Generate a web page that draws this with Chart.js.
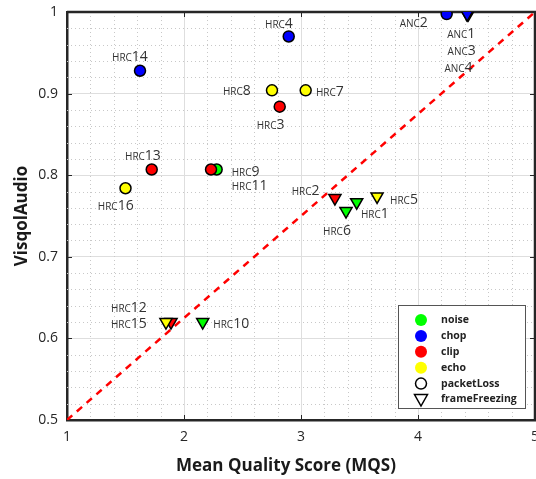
<!DOCTYPE html>
<html>
<head>
<meta charset="utf-8">
<script src="https://cdn.jsdelivr.net/npm/chart.js@4.4.1/dist/chart.umd.min.js"></script>
<style>
  html, body { margin: 0; padding: 0; overflow: hidden; background: #fff; }
  #wrap { width: 545px; height: 479px; }
</style>
</head>
<body>
<div id="wrap"><canvas id="chart" width="545" height="479"></canvas></div>
<script>
// --- data ---
const names = ['ANC1', 'ANC2', 'ANC3', 'ANC4', 'HRC1', 'HRC2', 'HRC3', 'HRC4', 'HRC5', 'HRC6',
               'HRC7', 'HRC8', 'HRC9', 'HRC10', 'HRC11', 'HRC12', 'HRC13', 'HRC14', 'HRC15', 'HRC16'];
const mqs = [4.42, 4.245, 4.43, 4.42, 3.476, 3.29, 2.818, 2.895, 3.65, 3.385,
             3.04, 2.752, 2.279, 2.16, 2.231, 1.889, 1.724, 1.624, 1.846, 1.50];
const visqol = [0.9975, 0.9975, 0.9975, 0.9975, 0.767, 0.772, 0.884, 0.970, 0.774, 0.756,
                0.904, 0.904, 0.807, 0.620, 0.807, 0.620, 0.807, 0.928, 0.620, 0.784];
const distortion = ['noise', 'chop', 'clip', 'chop', 'noise', 'clip', 'clip', 'chop', 'echo', 'noise',
                    'echo', 'echo', 'noise', 'noise', 'clip', 'clip', 'clip', 'chop', 'echo', 'echo'];
const impairment = ['frameFreezing', 'packetLoss', 'frameFreezing', 'frameFreezing', 'frameFreezing',
                    'frameFreezing', 'packetLoss', 'packetLoss', 'frameFreezing', 'frameFreezing',
                    'packetLoss', 'packetLoss', 'packetLoss', 'frameFreezing', 'packetLoss',
                    'frameFreezing', 'packetLoss', 'packetLoss', 'frameFreezing', 'packetLoss'];
const diagX = [1, 5];
const diagY = [0.5, 1];
const xTicks = [1, 2, 3, 4, 5];
const yTicks = [0.5, 0.6, 0.7, 0.8, 0.9, 1];
const legendLabels = ['noise', 'chop', 'clip', 'echo', 'packetLoss', 'frameFreezing'];

// --- styles ---
const colorOf = { noise: '#00ff00', chop: '#0000ff', clip: '#ff0000', echo: '#ffff00' };
const FONT = "'Open Sans', sans-serif";
// label offset from point centre: [dx to left edge of text, dy to text middle]
const labelOffsets = {
    ANC1: [-20, 19], ANC2: [-47, 8], ANC3: [-20.7, 36], ANC4: [-22.7, 53],
    HRC1: [4.3, 11], HRC2: [-43.3, -7.7], HRC3: [-23, 17], HRC4: [-23.7, -13.3],
    HRC5: [13, 3], HRC6: [-23, 18.4], HRC7: [10.3, 1], HRC8: [-49, 0],
    HRC9: [15, 2], HRC10: [10.6, 1], HRC11: [20.7, 15.3], HRC12: [-60, -15],
    HRC13: [-26.7, -14], HRC14: [-28, -15], HRC15: [-55, 1], HRC16: [-27.7, 16.7]
};

const points = mqs.map((x, i) => ({ x: x, y: visqol[i] }));
const isCircle = i => impairment[i] === 'packetLoss';

// minor grid, frame, inward ticks
const framePlugin = {
    id: 'frame',
    beforeDatasetsDraw(chart) {
        const { ctx, chartArea: a, scales: { x, y } } = chart;
        ctx.save();
        ctx.strokeStyle = '#c8c8c8';
        ctx.lineWidth = 1;
        ctx.setLineDash([1, 3]);
        for (let v = 1.2; v < 5; v += 0.2) {
            if (Math.abs(v - Math.round(v)) < 1e-6) continue;
            const px = Math.round(x.getPixelForValue(v)) + 0.5;
            ctx.beginPath(); ctx.moveTo(px, a.top); ctx.lineTo(px, a.bottom); ctx.stroke();
        }
        for (let k = 26; k < 50; k++) {
            if (k % 5 === 0) continue;
            const py = Math.round(y.getPixelForValue(k / 50)) + 0.5;
            ctx.beginPath(); ctx.moveTo(a.left, py); ctx.lineTo(a.right, py); ctx.stroke();
        }
        ctx.setLineDash([]);
        ctx.strokeStyle = '#262626';
        ctx.lineWidth = 1;
        xTicks.forEach(v => {
            const px = Math.round(x.getPixelForValue(v)) + 0.5;
            ctx.beginPath(); ctx.moveTo(px, a.bottom); ctx.lineTo(px, a.bottom - 5); ctx.stroke();
            ctx.beginPath(); ctx.moveTo(px, a.top); ctx.lineTo(px, a.top + 5); ctx.stroke();
        });
        yTicks.forEach(v => {
            const py = Math.round(y.getPixelForValue(v)) + 0.5;
            ctx.beginPath(); ctx.moveTo(a.left, py); ctx.lineTo(a.left + 5, py); ctx.stroke();
            ctx.beginPath(); ctx.moveTo(a.right, py); ctx.lineTo(a.right - 5, py); ctx.stroke();
        });
        ctx.lineWidth = 2.5;
        ctx.beginPath();
        ctx.moveTo(a.left, a.top); ctx.lineTo(a.right, a.top); ctx.lineTo(a.right, a.bottom);
        ctx.stroke();
        ctx.restore();
    },
    afterDraw(chart) {
        const { ctx, chartArea: a } = chart;
        const meta = chart.getDatasetMeta(1);
        ctx.save();
        // point labels
        ctx.fillStyle = '#333';
        ctx.textBaseline = 'alphabetic';
        meta.data.forEach((el, i) => {
            const name = names[i];
            const off = labelOffsets[name];
            const prefix = name.slice(0, 3), num = name.slice(3);
            let tx = el.x + off[0];
            const base = el.y + off[1] + 5;
            ctx.font = '10px ' + FONT;
            ctx.fillText(prefix, tx, base);
            tx += ctx.measureText(prefix).width;
            ctx.font = '14px ' + FONT;
            ctx.fillText(num, tx, base);
        });

        // axis titles
        ctx.fillStyle = '#1a1a1a';
        ctx.font = 'bold 17px ' + FONT;
        ctx.textAlign = 'center';
        ctx.textBaseline = 'middle';
        ctx.fillText('Mean Quality Score (MQS)', 286, 466);
        ctx.save();
        ctx.translate(22, (a.top + a.bottom) / 2);
        ctx.rotate(-Math.PI / 2);
        ctx.fillText('VisqolAudio', 0, 0);
        ctx.restore();

        // legend box
        const bx = 398, by = 305, bw = 127, bh = 103;
        ctx.fillStyle = '#fff';
        ctx.fillRect(bx, by, bw, bh);
        ctx.strokeStyle = '#555';
        ctx.lineWidth = 1;
        ctx.strokeRect(bx + 0.5, by + 0.5, bw, bh);
        ctx.textAlign = 'left';
        ctx.font = 'bold 10.5px ' + FONT;
        legendLabels.forEach((lab, i) => {
            const cy = 320 + i * 15.9, mx = 421;
            if (colorOf[lab]) {
                ctx.fillStyle = colorOf[lab];
                ctx.beginPath(); ctx.arc(mx, cy, 6, 0, Math.PI * 2); ctx.fill();
            } else if (lab === 'packetLoss') {
                ctx.strokeStyle = '#000'; ctx.lineWidth = 1.5;
                ctx.beginPath(); ctx.arc(mx, cy, 5.5, 0, Math.PI * 2); ctx.stroke();
            } else {
                ctx.strokeStyle = '#000'; ctx.lineWidth = 1.5;
                ctx.beginPath();
                ctx.moveTo(mx - 6.5, cy - 5); ctx.lineTo(mx + 6.5, cy - 5); ctx.lineTo(mx, cy + 6.5);
                ctx.closePath(); ctx.stroke();
            }
            ctx.fillStyle = '#222';
            ctx.fillText(lab, 441, cy);
        });
        ctx.restore();
    }
};

new Chart(document.getElementById('chart'), {
    data: {
        datasets: [
            {
                type: 'line',
                data: diagX.map((v, i) => ({ x: v, y: diagY[i] })),
                borderColor: '#ff0000',
                borderWidth: 2.5,
                borderDash: [7, 6],
                pointRadius: 0,
                order: 2
            },
            {
                type: 'scatter',
                data: points,
                order: 1,
                backgroundColor: ctx => colorOf[distortion[ctx.dataIndex]],
                borderColor: '#000',
                borderWidth: 1.5,
                pointStyle: ctx => isCircle(ctx.dataIndex) ? 'circle' : 'triangle',
                pointRotation: ctx => isCircle(ctx.dataIndex) ? 0 : 180,
                pointRadius: ctx => isCircle(ctx.dataIndex) ? 5.5 : 7,
                pointHoverRadius: ctx => isCircle(ctx.dataIndex) ? 5.5 : 7
            }
        ]
    },
    options: {
        responsive: false,
        animation: false,
        devicePixelRatio: 1,
        layout: { padding: { left: 0, right: 10, top: 12, bottom: 0 } },
        plugins: { legend: { display: false }, tooltip: { enabled: false } },
        scales: {
            x: {
                type: 'linear',
                min: 1, max: 5,
                afterFit: s => { s.height = 59; s.paddingLeft = 0; s.paddingRight = 0; },
                afterBuildTicks: s => { s.ticks = xTicks.map(v => ({ value: v })); },
                ticks: { color: '#262626', font: { size: 14, family: FONT }, padding: 9, maxRotation: 0 },
                grid: { color: '#dedede', lineWidth: 1, drawTicks: false },
                border: { color: '#262626', width: 2.5 }
            },
            y: {
                type: 'linear',
                min: 0.5, max: 1,
                afterFit: s => { s.width = 67; s.paddingTop = 0; s.paddingBottom = 0; },
                afterBuildTicks: s => { s.ticks = yTicks.map(v => ({ value: v })); },
                ticks: {
                    color: '#262626', font: { size: 14, family: FONT }, padding: 9,
                    callback: v => String(parseFloat(v.toFixed(2)))
                },
                grid: { color: '#dedede', lineWidth: 1, drawTicks: false },
                border: { color: '#262626', width: 2.5 }
            }
        }
    },
    plugins: [framePlugin]
});
</script>
</body>
</html>
